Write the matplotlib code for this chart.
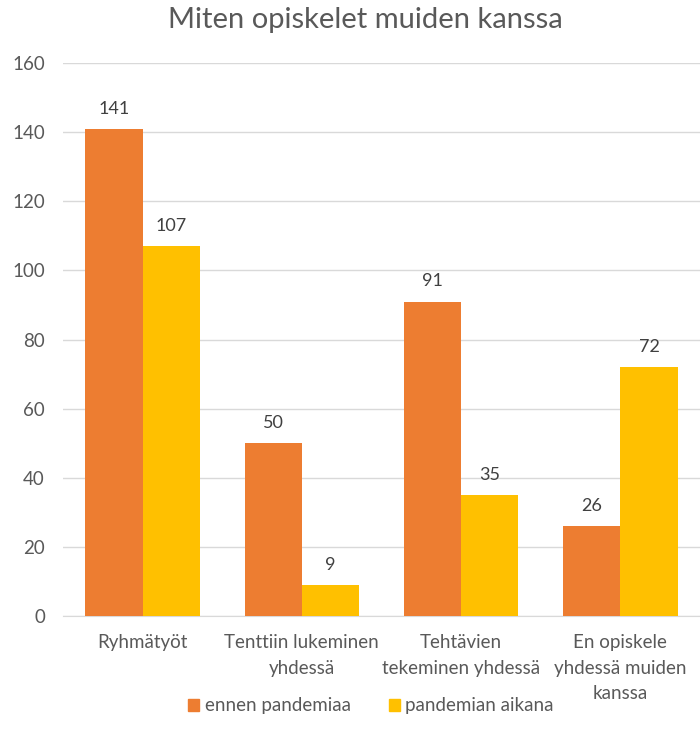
import numpy as np
import matplotlib.pyplot as plt
from matplotlib.patches import Patch

categories = ["Ryhmätyöt", "Tenttiin lukeminen\nyhdessä", "Tehtävien\ntekeminen yhdessä",
              "En opiskele\nyhdessä muiden\nkanssa"]
before = [141, 50, 91, 26]
during = [107, 9, 35, 72]
series_names = ["ennen pandemiaa", "pandemian aikana"]

c_before = "#ED7D31"
c_during = "#FFC000"
txt = "#595959"

plt.rcParams['font.family'] = ['Lato', 'DejaVu Sans']

fig = plt.figure(figsize=(7, 7.43), dpi=100)
ax = fig.add_axes([0.09, 0.171, 0.91, 0.744])

x = np.arange(len(categories))
w = 0.36
b1 = ax.bar(x - w/2, before, w, color=c_before, zorder=3)
b2 = ax.bar(x + w/2, during, w, color=c_during, zorder=3)

for bars, vals in ((b1, before), (b2, during)):
    for r, v in zip(bars, vals):
        ax.text(r.get_x() + r.get_width()/2, v + 3.5, str(v), ha="center", va="bottom",
                fontsize=13, color="#404040")

ax.set_xlim(-0.5, len(categories) - 0.5)
ax.set_ylim(0, 160)
ax.set_yticks(np.arange(0, 161, 20))
ax.yaxis.grid(True, color="#D9D9D9", linewidth=1, zorder=0)
ax.set_xticks(x)
ax.set_xticklabels(categories, fontsize=13.5, color=txt, linespacing=1.62)
ax.tick_params(axis="y", labelsize=13.5, labelcolor=txt, length=0, pad=13)
ax.tick_params(axis="x", length=0, pad=13)
for s in ["top", "right", "left"]:
    ax.spines[s].set_visible(False)
ax.spines["bottom"].set_color("#D9D9D9")

fig.suptitle("Miten opiskelet muiden kanssa", x=0.522, y=0.99, fontsize=21, color=txt)

handles = [Patch(color=c_before, label=series_names[0]),
           Patch(color=c_during, label=series_names[1])]
fig.legend(handles=handles, loc="center", bbox_to_anchor=(0.53, 0.05), ncol=2,
           frameon=False, fontsize=13.5, labelcolor=txt, handlelength=0.6, handleheight=0.6,
           handletextpad=0.3, columnspacing=2.0)

fig.savefig("out.png", dpi=100)
